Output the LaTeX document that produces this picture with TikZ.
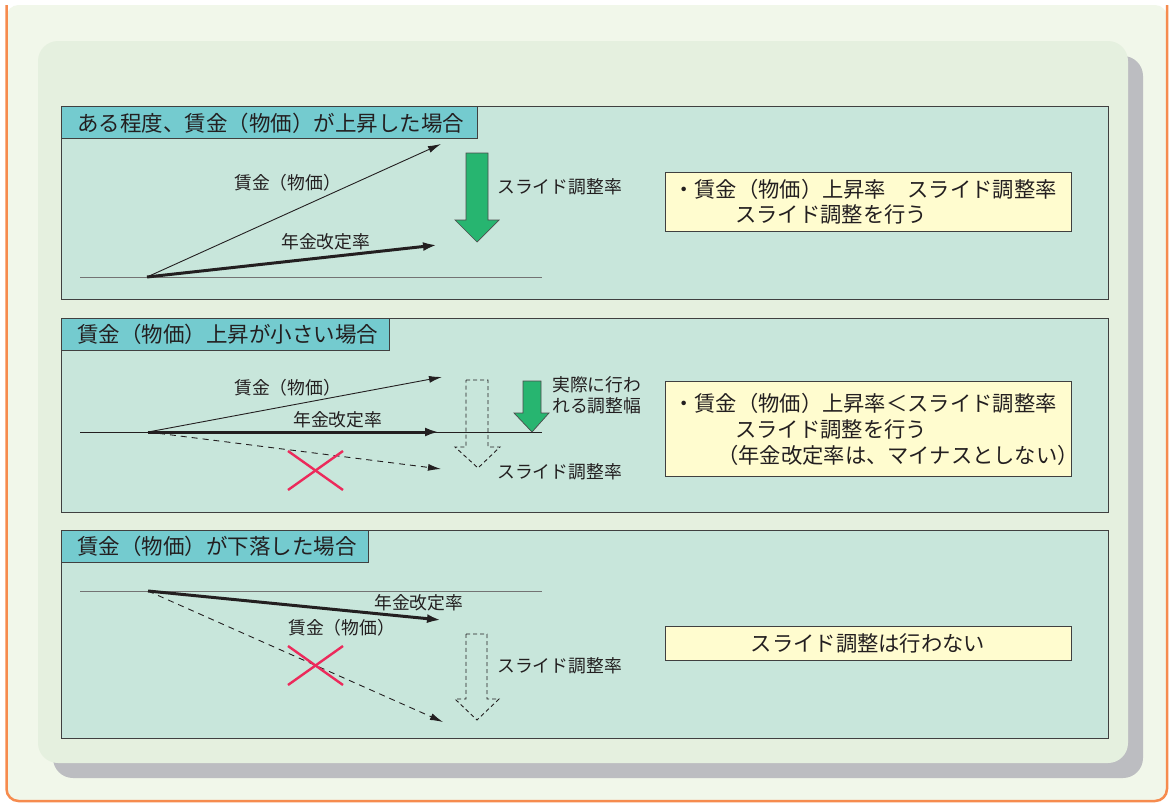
\documentclass[tikz,border=0pt]{standalone}
\usepackage{fontspec}
\setmainfont{Noto Sans CJK JP}
\usetikzlibrary{arrows.meta}

\definecolor{outerbg}{HTML}{F1F7EA}
\definecolor{outerline}{HTML}{F68B4E}
\definecolor{innerbg}{HTML}{E5F0DF}
\definecolor{shadowgray}{HTML}{BCBDC1}
\definecolor{panelfill}{HTML}{C8E6DB}
\definecolor{tabfill}{HTML}{74CBCF}
\definecolor{notefill}{HTML}{FFFCCF}
\definecolor{slidegreen}{HTML}{27B570}
\definecolor{crossred}{HTML}{EC2A5B}
\definecolor{textdark}{HTML}{231F20}

\begin{document}
\begin{tikzpicture}[x = 1pt, y = -1pt,
    panel/.style = {draw = black!75, fill = panelfill, line width = 0.9pt},
    tab/.style = {draw = black!75, fill = tabfill, line width = 0.9pt},
    notebox/.style = {draw = black!75, fill = notefill, line width = 0.9pt},
    title/.style = {inner sep = 0, anchor = west, text = textdark, font = \fontsize{21.5}{25}\selectfont},
    note/.style = {inner sep = 0, anchor = west, text = textdark, font = \fontsize{21.3}{25}\selectfont},
    lbl/.style = {inner sep = 0, anchor = west, text = textdark, font = \fontsize{17.8}{21}\selectfont},
    baseline/.style = {draw = black!55, line width = 1pt},
    thinarrow/.style = {-{Latex[length = 13pt, width = 7pt]}, draw = textdark, line width = 0.9pt},
    thickarrow/.style = {-{Latex[length = 14pt, width = 9pt]}, draw = textdark, line width = 3pt},
    dashedarrow/.style = {-{Latex[length = 13pt, width = 7pt]}, draw = textdark, line width = 0.9pt, dash pattern = on 6pt off 5pt},
    greenarrow/.style = {draw = black!70, fill = slidegreen, line width = 0.7pt},
    hollowarrow/.style = {draw = textdark, line width = 0.9pt, dash pattern = on 4pt off 3pt},
    cross/.style = {draw = crossred, line width = 2.4pt}]

    \useasboundingbox (0, 0) rectangle (1170, 803);
    \fill[white] (0, 0) rectangle (1170, 803);

    % frame
    \fill[outerbg, rounded corners = 12pt] (6.5, 5) -- (6.5, 801) -- (1167, 801) -- (1167, 5) -- cycle;
    \draw[outerline, line width = 2.5pt, rounded corners = 12pt] (6.5, 5) -- (6.5, 801) -- (1167, 801) -- (1167, 5);
    \fill[shadowgray, rounded corners = 20pt] (53, 56) rectangle (1143, 778);
    \fill[innerbg, rounded corners = 20pt] (38, 41) rectangle (1128, 763);

    % case 1
    \draw[panel] (61, 106) rectangle (1108, 299);
    \draw[tab] (61, 106) rectangle (477, 138);
    \node (t1) at (77, 123) [title] {ある程度、賃金（物価）が上昇した場合};

    \coordinate (b1l) at (80, 277);
    \coordinate (b1r) at (542, 277);
    \coordinate (o1) at (147, 277);
    \coordinate (w1) at (441, 144);
    \coordinate (p1) at (437, 245);
    \draw[baseline] (b1l) -- (b1r);
    \draw[thinarrow] (o1) -- (w1);
    \draw[thickarrow] (o1) -- (p1);
    \node (w1lbl) at (234, 183) [lbl] {賃金（物価）};
    \node (p1lbl) at (281, 242) [lbl] {年金改定率};

    \draw[greenarrow] (466, 153) -- (488, 153) -- (488, 220) -- (499, 220) -- (477, 242)
        -- (455, 220) -- (466, 220) -- cycle;
    \node (s1lbl) at (497, 187) [lbl] {スライド調整率};

    \draw[notebox] (665, 172) rectangle (1071, 231);
    \node (n1a) at (673, 189) [note] {・賃金（物価）上昇率　スライド調整率};
    \node (n1b) at (735, 214) [note] {スライド調整を行う};

    % case 2
    \draw[panel] (61, 318) rectangle (1108, 512);
    \draw[tab] (61, 318) rectangle (389, 350);
    \node (t2) at (77, 334) [title] {賃金（物価）上昇が小さい場合};

    \coordinate (b2l) at (80, 432);
    \coordinate (b2r) at (542, 432);
    \coordinate (o2) at (148, 432);
    \coordinate (w2) at (442, 377);
    \coordinate (p2) at (439, 432);
    \coordinate (m2) at (441, 469);
    \draw[draw = textdark, line width = 1pt] (b2l) -- (b2r);
    \draw[thinarrow] (o2) -- (w2);
    \draw[thickarrow] (o2) -- (p2);
    \draw[dashedarrow] (o2) -- (m2);
    \node (w2lbl) at (234, 388) [lbl] {賃金（物価）};
    \node (p2lbl) at (293, 420) [lbl] {年金改定率};
    \draw[cross] (288, 451) -- (343, 490);
    \draw[cross] (288, 490) -- (343, 451);

    \draw[hollowarrow] (466, 380) -- (488, 380) -- (488, 447) -- (500, 447) -- (478, 468)
        -- (455, 447) -- (466, 447) -- cycle;
    \node (s2lbl) at (497, 472) [lbl] {スライド調整率};
    \draw[greenarrow] (523, 381) -- (541, 381) -- (541, 413) -- (549, 413) -- (532, 432)
        -- (514, 413) -- (523, 413) -- cycle;
    \node (r2lbl) at (552, 395) [lbl, align = left] {実際に行わ\\れる調整幅};

    \draw[notebox] (665, 381) rectangle (1071, 476);
    \node (n2a) at (673, 403) [note] {・賃金（物価）上昇率＜スライド調整率};
    \node (n2b) at (735, 429) [note] {スライド調整を行う};
    \node (n2c) at (717, 455) [note] {（年金改定率は、マイナスとしない）};

    % case 3
    \draw[panel] (61, 530) rectangle (1108, 738);
    \draw[tab] (61, 530) rectangle (368, 562);
    \node (t3) at (77, 546) [title] {賃金（物価）が下落した場合};

    \coordinate (b3l) at (80, 591);
    \coordinate (b3r) at (542, 591);
    \coordinate (o3) at (148, 591);
    \coordinate (p3) at (441, 620);
    \coordinate (m3) at (443, 722);
    \draw[baseline] (b3l) -- (b3r);
    \draw[thickarrow] (o3) -- (p3);
    \draw[dashedarrow] (o3) -- (m3);
    \node (p3lbl) at (374, 603) [lbl] {年金改定率};
    \node (w3lbl) at (288, 628) [lbl] {賃金（物価）};
    \draw[cross] (288, 646) -- (343, 685);
    \draw[cross] (288, 685) -- (343, 646);

    \draw[hollowarrow] (466, 634) -- (487, 634) -- (487, 699) -- (499, 699) -- (477, 720)
        -- (455, 699) -- (466, 699) -- cycle;
    \node (s3lbl) at (497, 666) [lbl] {スライド調整率};

    \draw[notebox] (665, 626) rectangle (1071, 660);
    \node (n3) at (868, 643) [note, anchor = center] {スライド調整は行わない};
\end{tikzpicture}
\end{document}
